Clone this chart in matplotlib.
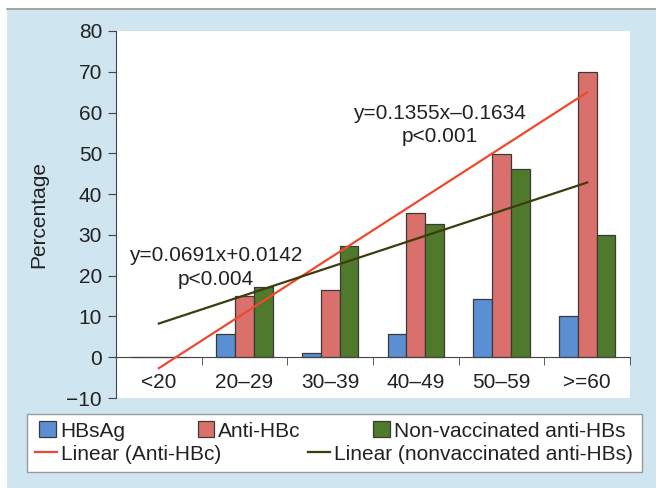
import numpy as np
import matplotlib.pyplot as plt
from matplotlib.patches import Rectangle
from matplotlib.lines import Line2D

plt.rcParams['font.family'] = ['Liberation Sans', 'DejaVu Sans']

# podaci procitani sa grafika
age_groups = ['<20', '20–29', '30–39', '40–49', '50–59', '>=60']
hbsag = [0, 5.8, 1.1, 5.8, 14.4, 10.0]
anti_hbc = [0, 15.0, 16.5, 35.4, 49.9, 70.0]
nonvacc = [0, 17.3, 27.2, 32.6, 46.2, 30.0]

c_blue = '#5b8fd3'
c_red = '#d9706b'
c_green = '#4f7a2c'
c_edge = '#3a3a3a'
c_line_red = '#f0482e'
c_line_olive = '#3c3c0c'
bg = '#cfe5f0'
fs = 15

fig = plt.figure(figsize=(6.56, 4.88), dpi=100, facecolor=bg)
# bela ivica gore i levo + siva linija
fig.patches.append(Rectangle((0, 1 - 8 / 488), 1, 8 / 488, transform=fig.transFigure,
                             facecolor='white', edgecolor='none', zorder=0))
fig.patches.append(Rectangle((0, 0), 7 / 656, 1, transform=fig.transFigure,
                             facecolor='white', edgecolor='none', zorder=0))
fig.lines.append(Line2D([7 / 656, 1], [1 - 8.5 / 488] * 2, transform=fig.transFigure,
                        color='#9a9a9a', lw=1.2))

ax = fig.add_axes([116 / 656, 1 - 398 / 488, 514 / 656, 367 / 488])
ax.set_facecolor('white')

x = np.arange(len(age_groups))
w = 0.22
ax.bar(x - w, hbsag, w, color=c_blue, edgecolor=c_edge, lw=0.9, label='HBsAg', zorder=2)
ax.bar(x, anti_hbc, w, color=c_red, edgecolor=c_edge, lw=0.9, label='Anti-HBc', zorder=2)
ax.bar(x + w, nonvacc, w, color=c_green, edgecolor=c_edge, lw=0.9,
       label='Non-vaccinated anti-HBs', zorder=2)

# linearni trend kao u Excelu (x = 1..6)
xs = np.arange(1, len(age_groups) + 1)
k1, n1 = np.polyfit(xs, anti_hbc, 1)
k2, n2 = np.polyfit(xs, nonvacc, 1)
ax.plot(x, k1 * xs + n1, color=c_line_red, lw=1.6, zorder=3, label='Linear (Anti-HBc)')
ax.plot(x, k2 * xs + n2, color=c_line_olive, lw=1.6, zorder=3,
        label='Linear (nonvaccinated anti-HBs)')

ax.text(3.28, 57, 'y=0.1355x–0.1634\np<0.001', ha='center', va='center',
        fontsize=fs, linespacing=1.3, color='#222222', zorder=4)
ax.text(0.66, 22, 'y=0.0691x+0.0142\np<0.004', ha='center', va='center',
        fontsize=fs, linespacing=1.3, color='#222222', zorder=4)

ax.set_xlim(-0.5, len(age_groups) - 0.5)
ax.set_ylim(-10, 80)
ax.set_yticks(np.arange(-10, 81, 10))
ax.set_xticks(x)
ax.set_xticklabels(age_groups)
ax.set_xticks(np.arange(-0.5, len(age_groups), 1), minor=True)

for s in ['top', 'right']:
    ax.spines[s].set_visible(False)
ax.spines['bottom'].set_position(('data', 0))
ax.spines['bottom'].set_color('#444444')
ax.spines['left'].set_color('#444444')
ax.tick_params(axis='x', which='major', length=0, pad=11, labelsize=fs, labelcolor='#222222')
ax.tick_params(axis='x', which='minor', length=6, direction='out', color='#444444')
ax.tick_params(axis='y', length=6, direction='out', labelsize=fs, color='#444444',
               labelcolor='#222222', pad=4)
ax.set_ylabel('Percentage', fontsize=fs, color='#222222', labelpad=13)

# legenda u okviru
fig.patches.append(Rectangle((27 / 656, 1 - 472 / 488), 615 / 656, 58 / 488,
                             transform=fig.transFigure, facecolor='white',
                             edgecolor='#999999', lw=1.0, zorder=1))
h, l = ax.get_legend_handles_labels()
order = {lab: hh for hh, lab in zip(h, l)}
row1 = ['HBsAg', 'Anti-HBc', 'Non-vaccinated anti-HBs']
row2 = ['Linear (Anti-HBc)', 'Linear (nonvaccinated anti-HBs)']
leg1 = fig.legend([order[k] for k in row1], row1, loc='center', ncol=3, mode='expand',
                  bbox_to_anchor=(31 / 656, 1 - 443 / 488, 603 / 656, 24 / 488),
                  bbox_transform=fig.transFigure, frameon=False, fontsize=fs,
                  handlelength=0.8, handleheight=0.8, handletextpad=0.2, borderaxespad=0)
leg2 = fig.legend([order[k] for k in row2], row2, loc='center', ncol=2, mode='expand',
                  bbox_to_anchor=(27 / 656, 1 - 466 / 488, 614 / 656, 24 / 488),
                  bbox_transform=fig.transFigure, frameon=False, fontsize=fs,
                  handlelength=1.05, handletextpad=0.2, borderaxespad=0)
for lg in (leg1, leg2):
    for t in lg.get_texts():
        t.set_color('#222222')

fig.savefig('out.png', dpi=100, facecolor=fig.get_facecolor())
